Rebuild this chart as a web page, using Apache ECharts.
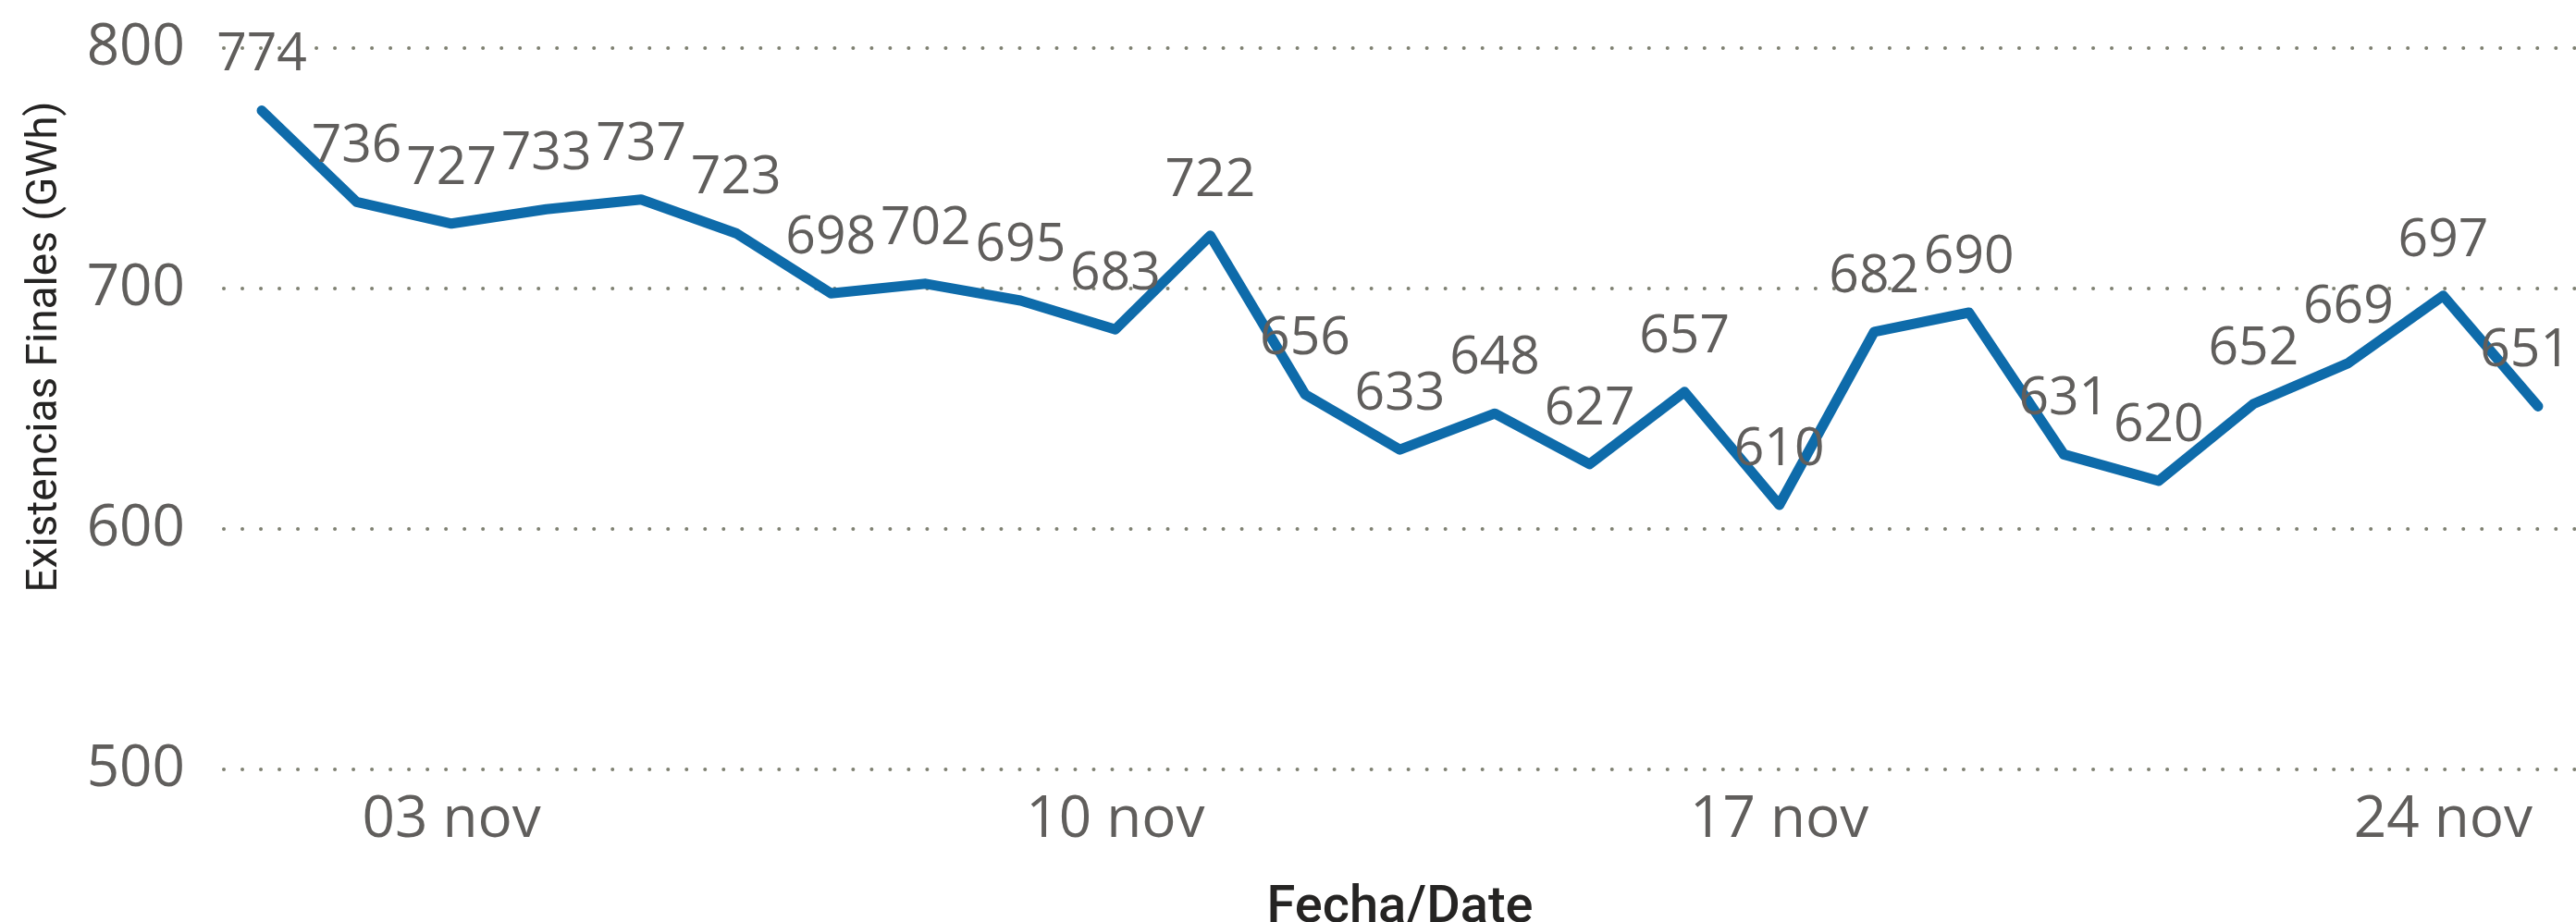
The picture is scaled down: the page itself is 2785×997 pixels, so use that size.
<!DOCTYPE html>
<html>
<head>
<meta charset="utf-8">
<style>
  html, body { margin: 0; padding: 0; background: #ffffff; }
  #chart { width: 2785px; height: 997px; }
</style>
<script src="https://cdn.jsdelivr.net/npm/echarts@6/dist/echarts.min.js"></script>
</head>
<body>
<div id="chart"></div>
<script>
// ---- Data ----
const days = [1,2,3,4,5,6,7,8,9,10,11,12,13,14,15,16,17,18,19,20,21,22,23,24,25];
const existencias = [774,736,727,733,737,723,698,702,695,683,722,656,633,648,627,657,610,682,690,631,620,652,669,697,651];
const tickDays = [3, 10, 17, 24];
const tickLabels = ['03 nov', '10 nov', '17 nov', '24 nov'];
const yTicks = [500, 600, 700, 800];
const xTitle = 'Fecha/Date';
const yTitle = 'Existencias Finales (GWh)';

const W = 2785;
const numFont = '"Segoe UI", "Open Sans", "Noto Sans", sans-serif';
const titleFont = 'Roboto, "DIN", "Noto Sans", sans-serif';

const chart = echarts.init(document.getElementById('chart'), null, { renderer: 'canvas' });

const seriesData = days.map((d, i) => [d, existencias[i]]);

chart.setOption({
  animation: false,
  backgroundColor: '#ffffff',
  grid: { left: 242, right: 0, top: 52, bottom: 165, containLabel: false, outerBoundsMode: 'none' },
  xAxis: {
    type: 'value',
    min: 0.6,
    max: 25.4,
    name: xTitle,
    nameLocation: 'middle',
    nameGap: 123,
    nameTextStyle: { fontFamily: titleFont, fontSize: 56, fontWeight: 500, color: '#252423' },
    axisLine: { show: false },
    axisTick: { show: false },
    splitLine: { show: false },
    axisLabel: {
      customValues: tickDays,
      formatter: (v) => { const k = tickDays.indexOf(Math.round(v)); return k >= 0 ? tickLabels[k] : ''; },
      fontFamily: numFont,
      fontSize: 62,
      color: '#605E5C',
      margin: 24
    }
  },
  yAxis: {
    type: 'value',
    min: yTicks[0],
    max: yTicks[yTicks.length - 1],
    interval: 100,
    name: yTitle,
    nameLocation: 'middle',
    nameGap: 170,
    nameRotate: 90,
    nameTextStyle: { fontFamily: titleFont, fontSize: 46, fontWeight: 400, color: '#252423', padding: [0, 0, 0, 134] },
    axisLine: { show: false },
    axisTick: { show: false },
    axisLabel: { fontFamily: numFont, fontSize: 62, color: '#605E5C', margin: 42 },
    splitLine: {
      show: true,
      lineStyle: { color: '#7f8172', width: 4, type: [0.01, 20], cap: 'round' }
    }
  },
  series: [{
    type: 'line',
    data: seriesData,
    showSymbol: true,
    symbol: 'circle',
    symbolSize: 0,
    lineStyle: { color: '#0E6BAA', width: 11, cap: 'round', join: 'round' },
    itemStyle: { color: '#0E6BAA' },
    label: {
      show: true,
      position: 'top',
      distance: 31,
      fontFamily: numFont,
      fontSize: 57,
      color: '#605E5C',
      formatter: (p) => String(p.value[1])
    },
    labelLayout: (params) => {
      const r = params.labelRect;
      const over = r.x + r.width - (W - 6);
      return over > 0 ? { dx: -over } : {};
    }
  }]
});
</script>
</body>
</html>
